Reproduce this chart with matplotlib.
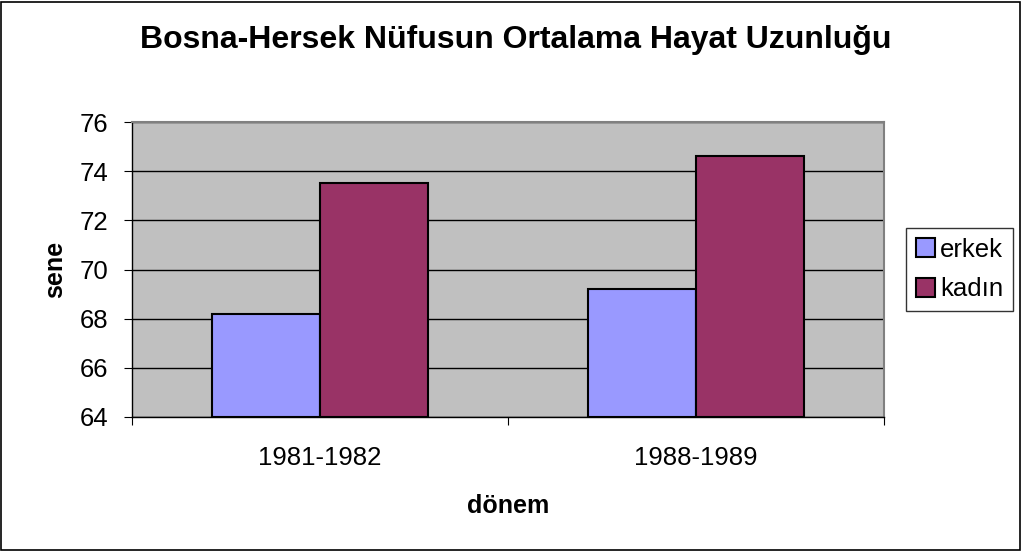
import numpy as np
import matplotlib.pyplot as plt
from matplotlib.patches import Rectangle

plt.rcParams['font.family'] = ['Liberation Sans', 'DejaVu Sans']

periods = ['1981-1982', '1988-1989']
erkek = [68.2, 69.2]
kadin = [73.5, 74.6]

fig = plt.figure(figsize=(10.22, 5.51), dpi=100)
fig.patch.set_facecolor('white')
fig.patches.append(Rectangle((0.001, 0.002), 0.997, 0.995, transform=fig.transFigure,
                             fill=False, edgecolor='black', linewidth=1.2))

ax = fig.add_axes([132/1022, 1 - 417/551, 752/1022, 295/551])
ax.set_facecolor('#c0c0c0')

x = np.arange(len(periods))
w = 0.287
ax.bar(x - w/2, np.array(erkek) - 64, w, bottom=64, color='#9999ff',
       edgecolor='black', linewidth=1.5, label='erkek', zorder=3)
ax.bar(x + w/2, np.array(kadin) - 64, w, bottom=64, color='#993366',
       edgecolor='black', linewidth=1.5, label='kadın', zorder=3)

ax.set_ylim(64, 76)
ax.set_xlim(-0.5, 1.5)
ax.set_yticks(range(64, 77, 2))
ax.yaxis.grid(True, color='black', linewidth=1)
ax.set_axisbelow(True)

ax.set_xticks([-0.5, 0.5, 1.5])
ax.set_xticklabels([])
ax.set_xticks(x, minor=True)
ax.set_xticklabels(periods, minor=True)
ax.tick_params(axis='x', which='minor', length=0, labelsize=18.5, pad=21)
ax.tick_params(axis='x', which='major', length=6, direction='out')
ax.tick_params(axis='y', length=6, direction='out', labelsize=18.5, pad=11)

for s in ['top', 'right']:
    ax.spines[s].set_color('#808080')
    ax.spines[s].set_linewidth(1.5)
for s in ['left', 'bottom']:
    ax.spines[s].set_color('black')
    ax.spines[s].set_linewidth(1)

ax.set_xlabel('dönem', fontsize=18, fontweight='bold', labelpad=17)
ax.set_ylabel('sene', fontsize=18, fontweight='bold', labelpad=9)

fig.text(0.505, 0.927, 'Bosna-Hersek Nüfusun Ortalama Hayat Uzunluğu',
         ha='center', va='center', fontsize=23, fontweight='bold')

leg = ax.legend(loc='center left', bbox_to_anchor=(1.029, 0.5), fontsize=18.5,
                frameon=True, fancybox=False, edgecolor='black',
                handlelength=0.75, handleheight=0.75, handletextpad=0.2,
                borderpad=0.38, labelspacing=0.62, borderaxespad=0)
leg.get_frame().set_linewidth(1)

fig.savefig('out.png', dpi=100)
